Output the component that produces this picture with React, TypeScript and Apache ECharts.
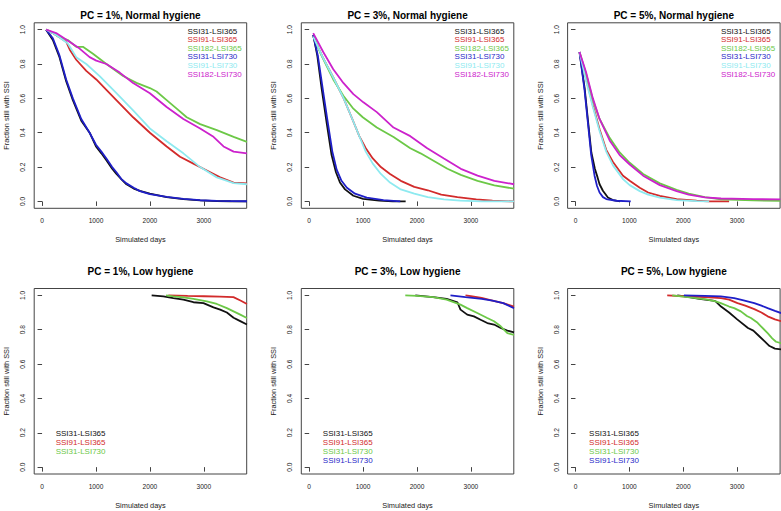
import React, { useEffect, useRef } from "react";
import * as echarts from "echarts";

// ---------- axis ticks / ranges ----------
const X_TICKS = [0, 1000, 2000, 3000];
const Y_TICKS = [0, 0.2, 0.4, 0.6, 0.8, 1.0];
const X_MIN = -146;
const X_MAX = 3796;
const Y_MIN = -0.04;
const Y_MAX = 1.04;

const NAMES_TOP = ["SSI31-LSI365", "SSI91-LSI365", "SSI182-LSI365", "SSI31-LSI730", "SSI91-LSI730", "SSI182-LSI730"];
const COLORS_TOP = ["#111111", "#D22B2B", "#6CC847", "#1F1FC8", "#8EEAF0", "#CC22CC"];
const NAMES_LOW = ["SSI31-LSI365", "SSI91-LSI365", "SSI31-LSI730", "SSI91-LSI730"];
const COLORS_LOW = ["#111111", "#D22B2B", "#6CC847", "#1F1FC8"];

const TITLES = [
  "PC = 1%, Normal hygiene", "PC = 3%, Normal hygiene", "PC = 5%, Normal hygiene",
  "PC = 1%, Low hygiene", "PC = 3%, Low hygiene", "PC = 5%, Low hygiene",
];

// ---------- PC = 1%, Normal hygiene ----------
const n1_s31_l365 = [[75,1.0],[200,0.94],[323,0.84],[447,0.70],[571,0.59],[727,0.47],[882,0.40],[1000,0.32],[1100,0.28],[1193,0.24],[1300,0.19],[1379,0.16],[1470,0.13],[1565,0.10],[1700,0.075],[1814,0.062],[2000,0.045],[2311,0.025],[2621,0.014],[2932,0.006],[3242,0.002],[3500,0.001],[3800,0.0]];
const n1_s91_l365 = [[75,1.0],[200,0.98],[300,0.96],[447,0.93],[520,0.88],[634,0.825],[820,0.76],[1006,0.71],[1193,0.65],[1441,0.57],[1689,0.49],[2000,0.40],[2311,0.32],[2559,0.26],[2807,0.22],[3056,0.18],[3304,0.14],[3553,0.11],[3800,0.105]];
const n1_s182_l365 = [[75,1.0],[200,0.98],[300,0.96],[478,0.94],[634,0.90],[758,0.90],[944,0.86],[1193,0.80],[1503,0.73],[1752,0.69],[2000,0.66],[2124,0.64],[2311,0.59],[2497,0.54],[2683,0.49],[2932,0.45],[3242,0.415],[3553,0.376],[3800,0.347]];
const n1_s31_l730 = [[75,1.0],[200,0.95],[323,0.85],[447,0.71],[571,0.60],[727,0.48],[882,0.40],[1000,0.33],[1100,0.29],[1193,0.25],[1300,0.20],[1379,0.17],[1470,0.13],[1565,0.105],[1700,0.08],[1814,0.06],[2000,0.042],[2311,0.027],[2621,0.015],[2932,0.007],[3242,0.003],[3800,0.001]];
const n1_s91_l730 = [[75,1.0],[200,0.98],[300,0.96],[478,0.92],[634,0.84],[820,0.80],[1068,0.73],[1379,0.63],[1689,0.53],[2000,0.425],[2311,0.35],[2621,0.28],[2932,0.20],[3242,0.14],[3553,0.107],[3800,0.10]];
const n1_s182_l730 = [[75,1.0],[261,0.98],[509,0.93],[696,0.89],[882,0.84],[1006,0.82],[1193,0.80],[1441,0.75],[1689,0.69],[2000,0.63],[2311,0.55],[2621,0.48],[2932,0.425],[3180,0.376],[3366,0.32],[3553,0.29],[3800,0.28]];

// ---------- PC = 3%, Normal hygiene ----------
const n3_s31_l365 = [[75,0.97],[150,0.85],[230,0.66],[323,0.46],[416,0.27],[497,0.17],[571,0.11],[665,0.07],[820,0.033],[1000,0.015],[1300,0.005],[1550,0.001],[1790,0.0]];
const n3_s91_l365 = [[75,0.96],[250,0.84],[450,0.72],[640,0.60],[800,0.48],[930,0.38],[1050,0.31],[1180,0.25],[1330,0.20],[1500,0.16],[1700,0.12],[1950,0.085],[2200,0.065],[2450,0.04],[2750,0.025],[3100,0.012],[3400,0.004],[3800,0.0]];
const n3_s182_l365 = [[75,0.97],[199,0.87],[323,0.79],[447,0.71],[634,0.615],[820,0.54],[994,0.49],[1255,0.43],[1565,0.375],[1876,0.31],[2066,0.28],[2315,0.235],[2564,0.19],[2813,0.155],[3124,0.12],[3435,0.094],[3800,0.074]];
const n3_s31_l730 = [[75,0.97],[160,0.85],[240,0.68],[335,0.48],[430,0.29],[510,0.185],[600,0.12],[700,0.08],[850,0.045],[1068,0.022],[1379,0.008],[1690,0.0]];
const n3_s91_l730 = [[75,0.96],[250,0.84],[450,0.72],[640,0.60],[800,0.48],[930,0.38],[1050,0.29],[1180,0.22],[1330,0.16],[1500,0.11],[1700,0.07],[1950,0.045],[2200,0.025],[2500,0.012],[2800,0.005],[3200,0.0],[3800,0.0]];
const n3_s182_l730 = [[75,0.98],[261,0.87],[447,0.77],[634,0.69],[820,0.625],[1006,0.577],[1255,0.52],[1565,0.43],[1876,0.38],[2190,0.31],[2500,0.25],[2813,0.19],[3124,0.15],[3435,0.12],[3800,0.10]];

// ---------- PC = 5%, Normal hygiene ----------
const n5_s31_l365 = [[75,0.87],[170,0.66],[232,0.47],[295,0.285],[360,0.19],[410,0.14],[447,0.10],[509,0.062],[602,0.023],[696,0.008],[830,0.0]];
const n5_s91_l365 = [[75,0.87],[199,0.71],[323,0.56],[447,0.42],[571,0.30],[696,0.23],[882,0.15],[1006,0.12],[1193,0.08],[1348,0.052],[1565,0.033],[1876,0.014],[2248,0.004],[2480,0.0],[2850,0.0]];
const n5_s182_l365 = [[75,0.87],[199,0.74],[323,0.59],[447,0.48],[634,0.37],[820,0.285],[1006,0.225],[1255,0.16],[1565,0.105],[1876,0.068],[2100,0.045],[2400,0.025],[2700,0.012],[3300,0.006],[3800,0.004]];
const n5_s31_l730 = [[75,0.87],[168,0.65],[230,0.46],[292,0.27],[354,0.15],[400,0.09],[447,0.052],[510,0.025],[571,0.014],[758,0.004],[1025,0.0]];
const n5_s91_l730 = [[75,0.87],[199,0.70],[323,0.55],[447,0.41],[571,0.29],[696,0.21],[882,0.13],[1006,0.095],[1193,0.06],[1348,0.04],[1565,0.022],[1876,0.008],[2248,0.002],[2480,0.0]];
const n5_s182_l730 = [[75,0.87],[199,0.75],[323,0.60],[447,0.48],[634,0.355],[820,0.27],[1006,0.215],[1255,0.15],[1565,0.095],[1876,0.06],[2100,0.04],[2400,0.024],[2700,0.017],[3300,0.013],[3800,0.012]];

// ---------- PC = 1%, Low hygiene ----------
const l1_s31_l365 = [[2033,1.0],[2250,0.994],[2436,0.984],[2622,0.975],[2808,0.96],[2994,0.955],[3180,0.93],[3304,0.917],[3428,0.90],[3552,0.87],[3676,0.85],[3800,0.83]];
const l1_s91_l365 = [[2343,1.0],[2700,0.997],[3000,0.995],[3300,0.993],[3550,0.99],[3680,0.97],[3800,0.95]];
const l1_s31_l730 = [[2300,1.0],[2436,0.994],[2622,0.988],[2808,0.979],[3056,0.965],[3242,0.95],[3428,0.926],[3552,0.907],[3676,0.888],[3800,0.868]];

// ---------- PC = 3%, Low hygiene ----------
const l3_s31_l365 = [[1969,1.0],[2300,0.99],[2550,0.98],[2750,0.96],[2807,0.917],[2932,0.888],[3056,0.878],[3180,0.858],[3304,0.839],[3429,0.83],[3553,0.81],[3677,0.795],[3800,0.785]];
const l3_s91_l365 = [[2900,1.0],[3000,0.995],[3200,0.985],[3400,0.97],[3600,0.955],[3700,0.945],[3800,0.935]];
const l3_s31_l730 = [[1783,1.0],[2000,0.997],[2300,0.99],[2550,0.975],[2807,0.946],[2932,0.926],[3118,0.897],[3304,0.868],[3429,0.849],[3553,0.82],[3677,0.78],[3800,0.77]];
const l3_s91_l730 = [[2621,1.0],[2900,0.99],[3200,0.98],[3400,0.97],[3600,0.955],[3700,0.94],[3800,0.925]];

// ---------- PC = 5%, Low hygiene ----------
const l5_s31_l365 = [[1888,1.0],[2000,0.995],[2300,0.98],[2550,0.97],[2600,0.965],[2700,0.935],[2850,0.90],[3000,0.86],[3200,0.81],[3300,0.795],[3400,0.765],[3500,0.735],[3600,0.705],[3700,0.69],[3814,0.685]];
const l5_s91_l365 = [[1702,1.0],[2000,0.995],[2400,0.99],[2700,0.984],[2850,0.975],[3006,0.955],[3150,0.94],[3317,0.92],[3450,0.90],[3565,0.878],[3700,0.86],[3814,0.85]];
const l5_s31_l730 = [[1795,1.0],[2000,0.993],[2200,0.985],[2447,0.975],[2600,0.965],[2696,0.955],[2850,0.935],[2944,0.926],[3068,0.907],[3180,0.88],[3255,0.868],[3379,0.84],[3441,0.82],[3565,0.78],[3650,0.75],[3720,0.73],[3814,0.722]];
const l5_s91_l730 = [[2012,1.0],[2400,0.997],[2696,0.994],[2944,0.984],[3100,0.972],[3317,0.955],[3450,0.94],[3565,0.926],[3700,0.91],[3814,0.897]];

const PANEL_DATA = [
  [n1_s31_l365, n1_s91_l365, n1_s182_l365, n1_s31_l730, n1_s91_l730, n1_s182_l730],
  [n3_s31_l365, n3_s91_l365, n3_s182_l365, n3_s31_l730, n3_s91_l730, n3_s182_l730],
  [n5_s31_l365, n5_s91_l365, n5_s182_l365, n5_s31_l730, n5_s91_l730, n5_s182_l730],
  [l1_s31_l365, l1_s91_l365, l1_s31_l730],
  [l3_s31_l365, l3_s91_l365, l3_s31_l730, l3_s91_l730],
  [l5_s31_l365, l5_s91_l365, l5_s31_l730, l5_s91_l730],
];

// ---------- layout ----------
const FONT = '"Liberation Sans", Arial, Helvetica, sans-serif';
const GRID_W = 212.5;
const GRID_H = 185.5;
const COL_X = [34.2, 301.3, 567.6];
const ROW_Y = [22.8, 288.5];
const AXIS_COLOR = "#444";
const TEXT_COLOR = "#1a1a1a";

function buildOption() {
  const grid: any[] = [];
  const xAxis: any[] = [];
  const yAxis: any[] = [];
  const series: any[] = [];
  const legend: any[] = [];
  const graphic: any[] = [];

  for (let p = 0; p < 6; p++) {
    const col = p % 3;
    const row = Math.floor(p / 3);
    const left = COL_X[col];
    const top = ROW_Y[row];
    const isTop = row === 0;
    const names = isTop ? NAMES_TOP : NAMES_LOW.slice(0, PANEL_DATA[p].length);
    const colors = isTop ? COLORS_TOP : COLORS_LOW;

    grid.push({
      left, top, width: GRID_W, height: GRID_H,
      show: true, borderColor: AXIS_COLOR, borderWidth: 1,
      backgroundColor: "transparent", containLabel: false,
    });
    xAxis.push({
      type: "value", gridIndex: p, min: X_MIN, max: X_MAX,
      axisLine: { show: false },
      splitLine: { show: false },
      axisTick: { show: true, inside: false, length: 4.5, lineStyle: { color: AXIS_COLOR, width: 1 }, customValues: X_TICKS },
      axisLabel: {
        customValues: X_TICKS, margin: 9, fontSize: 6.6, color: TEXT_COLOR, fontFamily: FONT,
        formatter: (v: number) => String(Math.round(v)),
      },
      name: "Simulated days", nameLocation: "middle", nameGap: 28,
      nameTextStyle: { fontSize: 7.4, color: TEXT_COLOR, fontFamily: FONT },
    });
    yAxis.push({
      type: "value", gridIndex: p, min: Y_MIN, max: Y_MAX,
      axisLine: { show: false },
      splitLine: { show: false },
      axisTick: { show: true, inside: false, length: 4.5, lineStyle: { color: AXIS_COLOR, width: 1 }, customValues: Y_TICKS },
      axisLabel: {
        customValues: Y_TICKS, margin: 8, rotate: 90, fontSize: 6.6, color: TEXT_COLOR, fontFamily: FONT,
        formatter: (v: number) => v.toFixed(1),
      },
      name: "Fraction still with SSI", nameLocation: "middle", nameGap: 24, nameRotate: 90,
      nameTextStyle: { fontSize: 7.4, color: TEXT_COLOR, fontFamily: FONT },
    });

    PANEL_DATA[p].forEach((d, i) => {
      series.push({
        type: "line", name: names[i], xAxisIndex: p, yAxisIndex: p,
        data: d, showSymbol: false, symbol: "none", clip: true,
        lineStyle: { width: 1.8, color: colors[i] },
        itemStyle: { color: colors[i] },
        emphasis: { disabled: true },
        silent: true,
      });
    });

    legend.push({
      orient: "vertical",
      left: isTop ? left + 147.3 : left + 15.5,
      top: isTop ? 27 : 429.3,
      padding: 0,
      itemWidth: 1, itemHeight: 8, itemGap: isTop ? 0.6 : 1,
      icon: "rect",
      itemStyle: { opacity: 0 },
      lineStyle: { opacity: 0 },
      selectedMode: false,
      textStyle: { fontSize: 8, lineHeight: 8, fontFamily: FONT },
      data: names.map((n, i) => ({ name: n, textStyle: { color: colors[i] } })),
    });

    graphic.push({
      type: "text",
      x: left + GRID_W / 2,
      y: isTop ? 15 : 271,
      style: {
        text: TITLES[p],
        font: `bold 10px ${FONT}`,
        fill: "#000",
        textAlign: "center",
        textVerticalAlign: "middle",
      },
    });
  }

  return {
    animation: false,
    backgroundColor: "#ffffff",
    grid, xAxis, yAxis, series, legend, graphic,
  };
}

export default function App() {
  const ref = useRef<HTMLDivElement>(null);
  useEffect(() => {
    if (!ref.current) return;
    const chart = echarts.init(ref.current, undefined, { renderer: "svg" });
    chart.setOption(buildOption() as any);
    return () => chart.dispose();
  }, []);
  return (
    <div
      ref={ref}
      style={{ position: "absolute", left: 0, top: 0, width: 781, height: 511, background: "#fff" }}
    />
  );
}
